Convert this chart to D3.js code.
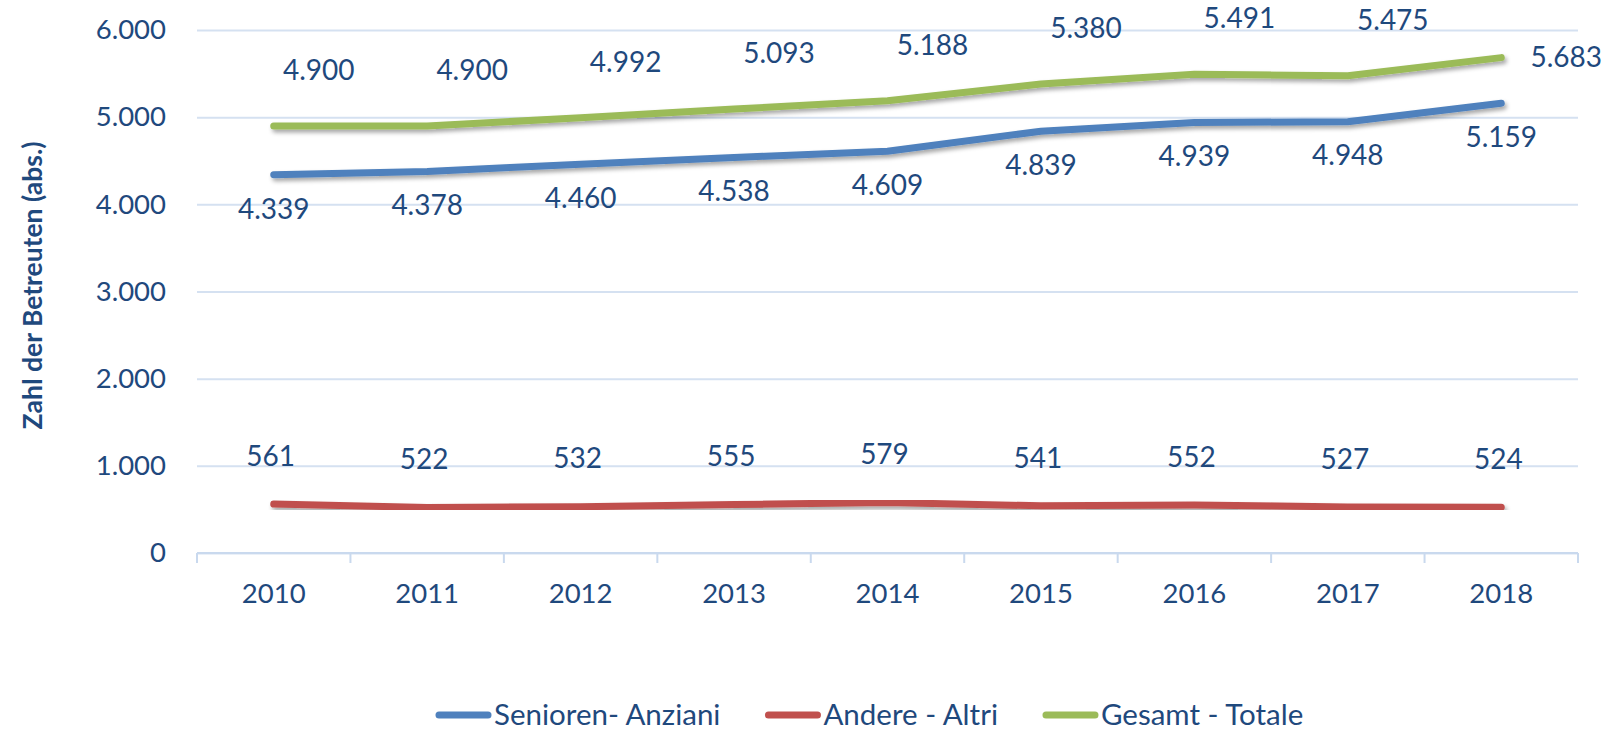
<!DOCTYPE html>
<html>
<head>
<meta charset="utf-8">
<script src="https://cdn.jsdelivr.net/npm/d3@7"></script>
<style>
body{margin:0;background:#fff;}
text{font-family:Lato,"Open Sans",sans-serif;fill:#1f497d;}
</style>
</head>
<body>
<div id="canvas"></div>
<script>
// data
var years = ['2010','2011','2012','2013','2014','2015','2016','2017','2018'];
var senioren = [4339,4378,4460,4538,4609,4839,4939,4948,5159];
var andere = [561,522,532,555,579,541,552,527,524];
var gesamt = [4900,4900,4992,5093,5188,5380,5491,5475,5683];
var yTicks = [0,1000,2000,3000,4000,5000,6000];
var yTickLabels = ['0','1.000','2.000','3.000','4.000','5.000','6.000'];
var seriesNames = ['Senioren- Anziani','Andere - Altri','Gesamt - Totale'];

var W = 1604, H = 731;
var m = {t:30,r:26,b:178,l:197};
var w = W - m.l - m.r, h = H - m.t - m.b;

var de = d3.formatLocale({decimal:',',thousands:'.',grouping:[3],currency:['','']});
var fmt = de.format(',d');

var svg = d3.select('#canvas').append('svg')
    .attr('width',W).attr('height',H);

var defs = svg.append('defs');
var f = defs.append('filter').attr('id','shadow')
    .attr('x','-5%').attr('y','-50%').attr('width','110%').attr('height','200%');
f.append('feDropShadow').attr('dx',2).attr('dy',3).attr('stdDeviation',2)
    .attr('flood-color','#000').attr('flood-opacity',0.35);

var plot = svg.append('g').attr('transform','translate('+m.l+','+m.t+')');

var x = d3.scaleBand().domain(years).range([0,w]).padding(0);
var y = d3.scaleLinear().domain([0,6000]).range([h,0]);
var cx = function(d,i){ return x(years[i]) + x.bandwidth()/2; };

// gridlines + y labels
var axisY = d3.axisLeft(y).tickValues(yTicks)
    .tickFormat(function(d,i){ return yTickLabels[i]; })
    .tickSize(-w).tickPadding(31);
var gy = plot.append('g').call(axisY);
gy.select('.domain').remove();
gy.selectAll('line').attr('stroke','#d5e1f1').attr('stroke-width',2);
gy.selectAll('text').style('font-size','27.5px').style('fill','#1f497d');

// x axis
var gx = plot.append('g').attr('transform','translate(0,'+h+')');
gx.append('line').attr('x1',0).attr('x2',w).attr('stroke','#c9d9ee').attr('stroke-width',2);
gx.selectAll('.bt').data(years.concat(['end'])).enter().append('line')
    .attr('x1',function(d,i){ return i*x.step(); })
    .attr('x2',function(d,i){ return i*x.step(); })
    .attr('y1',0).attr('y2',10)
    .attr('stroke','#c9d9ee').attr('stroke-width',2);
var axisX = d3.axisBottom(x).tickSize(0).tickPadding(30);
var gxl = gx.append('g').call(axisX);
gxl.select('.domain').remove();
gxl.selectAll('text').style('font-size','27.5px').style('fill','#1f497d');

// y title
svg.append('text')
    .attr('transform','translate(42,'+(m.t+h/2-6)+') rotate(-90)')
    .attr('text-anchor','middle')
    .style('font-size','26.5px').style('font-weight','bold')
    .text('Zahl der Betreuten (abs.)');

var series = [
  {name:seriesNames[0], values:senioren, color:'#4f81bd', dx:0, dy:34},
  {name:seriesNames[1], values:andere, color:'#c0504d', dx:-3, dy:-48},
  {name:seriesNames[2], values:gesamt, color:'#9bbb59', dx:45, dy:-56}
];

var line = d3.line().x(cx).y(function(d){ return y(d); });

series.forEach(function(s){
  plot.append('path').datum(s.values)
      .attr('d',line)
      .attr('fill','none')
      .attr('stroke',s.color)
      .attr('stroke-width',7)
      .attr('stroke-linecap','round')
      .attr('stroke-linejoin','round')
      .attr('filter','url(#shadow)');
});

series.forEach(function(s,si){
  plot.selectAll('.lab'+si).data(s.values).enter().append('text')
      .attr('x',function(d,i){
        if(si===2 && i===s.values.length-1) return cx(d,i)+65;
        return cx(d,i)+s.dx;
      })
      .attr('y',function(d,i){
        if(si===2 && i===s.values.length-1) return y(d);
        return y(d)+s.dy;
      })
      .attr('dy','0.35em')
      .attr('text-anchor','middle')
      .style('font-size','28px')
      .text(function(d){ return fmt(d); });
});

// legend
var lg = svg.append('g').attr('transform','translate(436,715)');
var lx = 0;
series.forEach(function(s){
  var it = lg.append('g').attr('transform','translate('+lx+',0)');
  it.append('line').attr('x1',3).attr('x2',52).attr('y1',0).attr('y2',0)
      .attr('stroke',s.color).attr('stroke-width',7).attr('stroke-linecap','round');
  var t = it.append('text').attr('x',58).attr('dy','0.35em')
      .style('font-size','29.5px').text(s.name);
  lx += 58 + t.node().getComputedTextLength() + 45;
});
</script>
</body>
</html>
